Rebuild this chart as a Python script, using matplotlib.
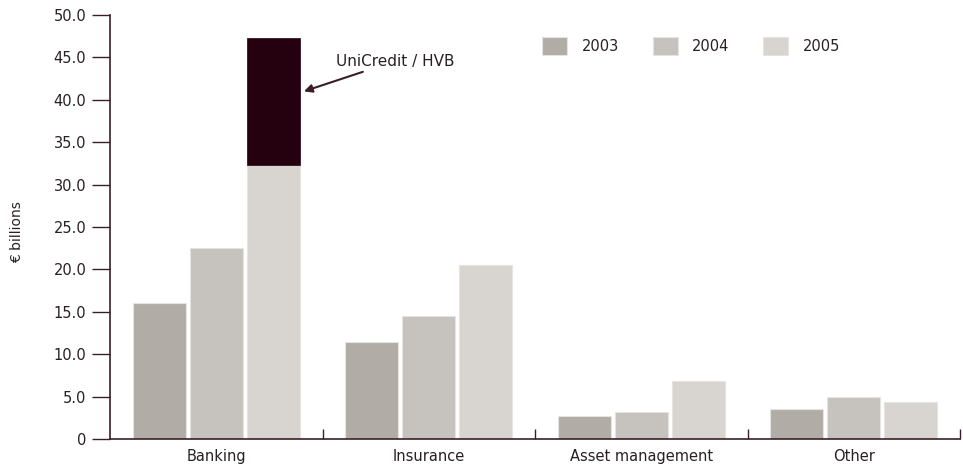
import matplotlib
matplotlib.use("Agg")
import matplotlib.pyplot as plt
import numpy as np

categories = ["Banking", "Insurance", "Asset management", "Other"]
years = ["2003", "2004", "2005"]
v2003 = [16.0, 11.4, 2.7, 3.5]
v2004 = [22.5, 14.5, 3.2, 5.0]
v2005 = [32.3, 20.5, 6.8, 4.4]
unicredit_hvb = 15.0  # extra on Banking 2005
yticks = [0, 5, 10, 15, 20, 25, 30, 35, 40, 45, 50]
ytick_labels = ["0", "5.0", "10.0", "15.0", "20.0", "25.0", "30.0", "35.0", "40.0", "45.0", "50.0"]

colors = ["#b1aca6", "#c6c3be", "#d8d5d0"]
dark = "#25000f"
axcol = "#3a1f2a"
txt = "#2a1f24"

plt.rcParams['font.family'] = ['DejaVu Sans']

fig = plt.figure(figsize=(9.63, 4.65), dpi=100)
ax = fig.add_axes([110/963, 1-439/465, 850/963, 424/465])

x = np.arange(len(categories))
w = 0.249
off = 0.268
series = [v2003, v2004, v2005]
for i, (vals, c, lab) in enumerate(zip(series, colors, years)):
    ax.bar(x + (i-1)*off, vals, width=w, color=c, edgecolor="#e6e4e1", linewidth=0.8, label=lab)
ax.bar(x[0] + off, unicredit_hvb, bottom=v2005[0], width=w, color=dark, edgecolor=dark, linewidth=0.5)

ax.set_xlim(-0.5, 3.5)
ax.set_ylim(0, 50)
ax.set_yticks(yticks)
ax.set_yticklabels(ytick_labels)
ax.set_xticks(x)
ax.set_xticklabels(categories)
ax.tick_params(axis='x', length=0, pad=7, labelsize=10.5, labelcolor=txt)
ax.set_xticks([0.5, 1.5, 2.5, 3.5], minor=True)
ax.tick_params(axis='x', which='minor', direction='in', length=7.5, color=axcol, width=1)
ax.tick_params(axis='y', length=13, color=axcol, width=1, pad=4, labelsize=10.5, labelcolor=txt)

for s in ['top', 'right']:
    ax.spines[s].set_visible(False)
for s in ['left', 'bottom']:
    ax.spines[s].set_color(axcol)
    ax.spines[s].set_linewidth(1.2)

fig.text(17/963, 1-232/465, "€ billions", rotation=90, ha='center', va='center', fontsize=10, color=txt)

ax.text(0.564, 44.5, "UniCredit / HVB", fontsize=11, color=txt, ha='left', va='center')
ax.annotate("", xy=(x[0] + off + w/2 + 0.02, 41.0), xytext=(0.69, 43.3),
            arrowprops=dict(arrowstyle='-|>', color=axcol, lw=1.5, mutation_scale=12,
                            shrinkA=0, shrinkB=0))

leg = ax.legend(loc='upper left', bbox_to_anchor=(0.5, 0.965), ncol=3, frameon=False,
                fontsize=10.5, handlelength=1.71, handleheight=1.5, handletextpad=1.0,
                columnspacing=2.3, borderpad=0)
for t in leg.get_texts():
    t.set_color(txt)

fig.savefig("out.png", dpi=100)
